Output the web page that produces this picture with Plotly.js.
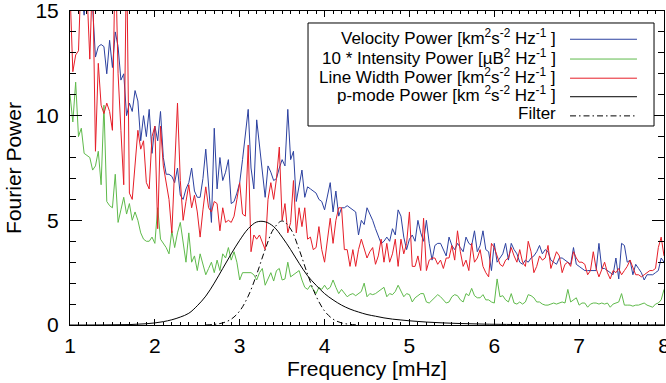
<!DOCTYPE html>
<html>
<head>
<meta charset="utf-8">
<script src="https://cdn.plot.ly/plotly-3.0.1.min.js"></script>
<style>html,body{margin:0;padding:0;background:#fff;}#chart{width:666px;height:383px;}</style>
</head>
<body>
<div id="chart"></div>
<script>
// Frequency grid of the spectra [mHz]
const freqStart = 1.0;
const freqStep = 1 / 30;

// Velocity power (blue)
const velocityPower = [
17.5,19,16.5,18,16,14.8,16.5,15.6,15.2,12.8,
13.3,13.4,13.3,12.0,13.6,12.3,14.0,13.3,11.7,12.0,
10.0,10.6,10.2,11.2,10.7,8.8,10.0,9.0,10.3,8.2,
9.5,8.8,10.2,8.0,7.2,7.2,7.1,6.8,7.5,6.2,
6.0,6.5,6.8,7.5,6.4,6.1,6.1,7.0,8.4,6.5,
4.9,9.4,6.5,8.0,6.9,7.3,7.9,5.8,5.9,6.3,
6.8,7.9,9.0,10.3,7.5,6.5,9.8,8.5,7.5,6.1,
7.6,7.3,6.9,7.0,7.5,7.9,7.6,10.3,7.9,8.3,
5.9,6.6,7.4,6.1,6.6,6.5,6.4,6.3,6.0,5.9,
5.5,6.2,6.8,5.4,6.4,5.2,5.6,5.6,5.7,5.6,
5.5,5.4,4.3,5.0,4.8,5.6,5.3,5.0,4.6,4.2,
3.9,4.0,4.2,4.0,4.6,4.3,5.5,5.2,4.2,3.6,
4.1,4.3,4.0,5.0,4.4,4.0,5.0,3.9,3.1,3.8,
3.9,3.9,3.6,3.3,4.2,3.8,3.6,3.9,3.7,3.5,
4.2,3.9,3.8,4.5,3.5,3.8,4.5,3.6,3.5,2.6,
3.9,3.0,3.2,3.4,3.9,3.1,3.9,3.6,3.4,3.0,
2.9,3.1,3.0,3.2,3.3,3.5,3.8,3.4,3.6,3.5,
3.1,3.0,2.9,3.2,3.2,3.1,3.0,2.9,3.7,2.9,
2.8,2.7,2.6,2.6,2.6,2.6,2.6,3.9,2.7,2.7,
2.6,2.5,2.4,3.2,2.2,3.9,3.8,3.0,3.1,2.4,
2.9,2.7,2.5,2.15,2.4,2.4,2.4,2.5,2.6,3.2,
3.0
];

// 10 * Intensity power (green)
const intensityPower = [
11.0,9.7,11.6,9.0,9.4,8.2,8.1,8.0,7.4,7.6,
8.3,6.7,10.5,5.9,5.7,5.6,7.2,4.9,5.5,6.1,
5.3,5.8,5.0,5.4,5.0,4.4,4.1,4.0,4.0,4.2,
3.9,5.6,4.1,3.9,3.7,3.4,4.5,3.7,4.4,4.9,
3.9,3.0,4.4,3.0,3.3,2.6,3.4,2.9,2.4,2.7,
3.0,2.5,3.1,2.6,3.4,3.2,3.7,3.1,3.5,3.0,
2.15,2.5,2.5,2.5,2.5,2.4,2.15,2.5,2.7,1.9,
2.2,2.5,2.1,2.6,2.7,2.15,2.2,3.0,2.3,2.4,
2.5,2.6,2.15,1.8,1.7,1.9,1.7,1.5,1.8,1.7,
1.9,1.7,1.8,2.15,1.8,1.5,1.7,1.5,1.35,1.45,
1.5,1.4,1.5,1.6,2.0,1.35,1.5,1.45,1.5,1.6,
1.7,1.8,1.35,1.5,1.45,1.6,1.9,1.6,1.35,1.5,
1.45,1.1,1.3,1.4,1.5,1.5,1.1,1.05,1.2,1.3,
1.45,1.35,1.2,1.05,1.1,1.35,1.45,1.4,1.2,1.1,
1.5,1.4,1.75,1.4,1.3,1.3,1.45,1.2,1.2,1.1,
1.05,2.2,1.35,1.4,1.2,1.1,1.5,1.05,1.0,1.1,
1.0,1.1,1.45,1.4,1.3,1.1,1.1,1.0,0.95,0.95,
1.0,1.05,1.0,1.05,1.1,1.05,1.7,1.1,1.2,1.3,
0.95,1.05,1.05,0.85,1.0,1.05,1.05,1.0,1.05,1.0,
1.05,0.85,1.0,1.05,1.1,1.5,0.95,0.95,0.95,0.9,
0.95,0.95,1.0,1.05,0.95,0.9,0.85,1.0,1.05,1.2,
1.7
];

// Line width power (red)
const lineWidthPower = [
16,12.1,12.9,13.1,17,17,16,12.7,17,8.3,
12.5,10.5,10.1,10.6,10.2,9.3,18,12.0,9.3,6.7,
18,6.3,6.0,7.6,9.3,8.4,8.8,6.8,6.5,9.0,
9.5,4.6,9.5,7.6,6.8,6.0,4.4,7.5,10.6,6.9,
5.0,5.9,6.7,5.6,6.2,5.4,4.2,5.5,6.6,5.6,
5.4,5.9,5.8,4.5,5.6,4.9,5.0,4.9,5.2,6.0,
6.8,5.3,5.2,8.6,3.5,4.3,4.1,4.3,3.9,3.6,
6.0,6.8,6.0,7.0,8.5,5.0,5.8,4.4,4.9,6.9,
4.4,5.6,4.7,5.6,4.1,4.2,3.6,3.7,4.7,3.6,
3.0,4.2,5.1,3.9,5.0,5.6,5.6,3.6,3.6,2.8,
3.6,2.8,3.6,4.1,3.7,3.2,3.5,3.7,2.9,3.3,
4.1,3.0,3.9,3.0,3.4,4.1,2.8,4.1,3.4,3.9,
5.4,2.8,2.8,3.3,2.6,5.1,2.6,3.1,3.2,3.2,
2.9,3.1,2.7,3.2,3.2,3.8,3.1,4.5,3.5,2.8,
3.1,2.6,3.9,3.0,3.2,3.6,2.8,2.5,2.3,3.9,
3.7,3.3,2.9,2.8,3.1,3.2,3.7,3.3,3.0,3.6,
3.0,2.8,4.0,3.5,2.5,2.8,3.3,3.1,3.2,3.8,
2.7,3.1,3.5,3.3,2.5,2.9,3.0,2.8,3.5,3.2,
3.0,3.0,2.9,2.4,2.6,3.5,2.7,2.3,2.7,3.0,
2.5,2.2,2.6,2.5,2.7,2.4,2.6,2.8,3.1,2.7,
2.4,2.4,2.3,2.4,2.5,2.6,2.6,2.7,3.7,4.2,
3.3
];

// p-mode power (black solid), sampled every 0.1 mHz
const pmodeFreq = [
1.0,1.1,1.2,1.3,1.4,1.5,1.6,1.7,1.8,1.9,
2.0,2.1,2.2,2.3,2.4,2.5,2.6,2.7,2.8,2.9,
3.0,3.1,3.2,3.3,3.4,3.5,3.6,3.7,3.8,3.9,
4.0,4.1,4.2,4.3,4.4,4.5,4.6,4.7,4.8,4.9,
5.0,5.1,5.2,5.3,5.4,5.5,5.6,5.7,5.8,5.9,
6.0,6.2,6.5,7.0,7.5,8.0
];
const pmodePower = [
0.0,0.0,0.0,0.002,0.005,0.01,0.015,0.02,0.04,0.06,
0.1,0.16,0.25,0.38,0.56,0.92,1.38,2.0,2.7,3.4,
4.05,4.6,4.92,4.93,4.7,4.2,3.6,2.95,2.35,1.9,
1.5,1.2,0.95,0.76,0.62,0.5,0.42,0.34,0.28,0.24,
0.2,0.17,0.14,0.12,0.1,0.085,0.07,0.06,0.05,0.04,
0.035,0.025,0.015,0.01,0.007,0.005
];

// Filter (black dash-dot)
const filterFreq = [2.6,2.7,2.8,2.9,3.0,3.1,3.2,3.3,3.4,3.5,3.6,3.7,3.8,3.9,4.0,4.1,4.2,4.3,4.4];
const filterPower = [0.0,0.03,0.1,0.28,0.67,1.38,2.42,3.61,4.59,4.97,4.59,3.61,2.42,1.38,0.67,0.28,0.1,0.03,0.0];

// Axis ticks
const xTickVals = [1,2,3,4,5,6,7,8];
const yTickVals = [0,5,10,15];

const legendLabels = [
  'Velocity Power [km<sup>2</sup>s<sup>-2</sup> Hz<sup>-1</sup> ]',
  '10 * Intensity Power [µB<sup>2</sup> Hz<sup>-1</sup> ]',
  'Line Width Power [km<sup>2</sup>s<sup>-2</sup> Hz<sup>-1</sup> ]',
  'p-mode Power [km <sup>2</sup>s<sup>-2</sup> Hz<sup>-1</sup> ]',
  'Filter'
];

const freq = velocityPower.map((_, i) => freqStart + i * freqStep);

const COL_BLUE = '#2c41a0', COL_GREEN = '#5fba4b', COL_RED = '#e61e28', COL_BLACK = '#000000';
const FONT = 'Liberation Sans, Arial, Helvetica, sans-serif';

const traces = [
  {x: freq, y: velocityPower, type: 'scatter', mode: 'lines', line: {color: COL_BLUE, width: 1}},
  {x: freq, y: intensityPower, type: 'scatter', mode: 'lines', line: {color: COL_GREEN, width: 1}},
  {x: freq, y: lineWidthPower, type: 'scatter', mode: 'lines', line: {color: COL_RED, width: 1}},
  {x: pmodeFreq, y: pmodePower, type: 'scatter', mode: 'lines', line: {color: COL_BLACK, width: 1, shape: 'spline'}},
  {x: filterFreq, y: filterPower, type: 'scatter', mode: 'lines', line: {color: COL_BLACK, width: 1, shape: 'spline', dash: '6px,3px,1.5px,3px'}}
];

// Hand-built legend (text right-aligned, sample line to the right, as in the original)
const legendColors = [COL_BLUE, COL_GREEN, COL_RED, COL_BLACK, COL_BLACK];
const legendDash = ['solid','solid','solid','solid','6px,3px,1.5px,3px'];
const rowY = [0.918, 0.855, 0.794, 0.735, 0.674];
const annotations = legendLabels.map((t, k) => ({
  xref: 'paper', yref: 'paper', x: 0.8215, y: rowY[k], xanchor: 'right', yanchor: 'middle',
  text: t, showarrow: false, font: {family: FONT, size: 17, color: '#000'}
}));
const shapes = [{type: 'rect', xref: 'paper', yref: 'paper', x0: 0.4007, x1: 0.9832, y0: 0.6338, y1: 0.9618,
  line: {color: '#000', width: 1}, fillcolor: '#fff', layer: 'above'}];
legendLabels.forEach((t, k) => shapes.push({type: 'line', xref: 'paper', yref: 'paper',
  x0: 0.8418, x1: 0.9545, y0: rowY[k] - 0.008, y1: rowY[k] - 0.008,
  line: {color: legendColors[k], width: 1, dash: legendDash[k]}, layer: 'above'}));

const layout = {
  width: 666, height: 383,
  margin: {l: 70, r: 2, t: 11, b: 58},
  paper_bgcolor: '#fff', plot_bgcolor: '#fff',
  showlegend: false,
  font: {family: FONT, size: 21, color: '#000'},
  xaxis: {
    range: [1, 8], tickvals: xTickVals, ticktext: xTickVals.map(String),
    showgrid: false, zeroline: false, showline: true, linecolor: '#000', linewidth: 1,
    mirror: 'allticks', ticks: 'inside', ticklen: 6, tickwidth: 1, tickcolor: '#000',
    minor: {dtick: 0.1, ticks: 'inside', ticklen: 3, tickwidth: 1, tickcolor: '#000', showgrid: false},
    tickfont: {family: FONT, size: 21}, ticklabelstandoff: 2, ticklabeloverflow: 'allow',
    title: {text: 'Frequency [mHz]', font: {family: FONT, size: 21}, standoff: 4}
  },
  yaxis: {
    range: [0, 15], tickvals: yTickVals, ticktext: yTickVals.map(String),
    showgrid: false, zeroline: false, showline: true, linecolor: '#000', linewidth: 1,
    mirror: 'allticks', ticks: 'inside', ticklen: 12, tickwidth: 1, tickcolor: '#000',
    minor: {dtick: 1, ticks: 'inside', ticklen: 6, tickwidth: 1, tickcolor: '#000', showgrid: false},
    tickfont: {family: FONT, size: 21}, ticklabelstandoff: 6, ticklabeloverflow: 'allow',
    title: {text: 'Fourier Power', font: {family: FONT, size: 21}, standoff: 8}
  },
  annotations: annotations,
  shapes: shapes
};

Plotly.newPlot('chart', traces, layout, {displayModeBar: false, staticPlot: true});
</script>
</body>
</html>
